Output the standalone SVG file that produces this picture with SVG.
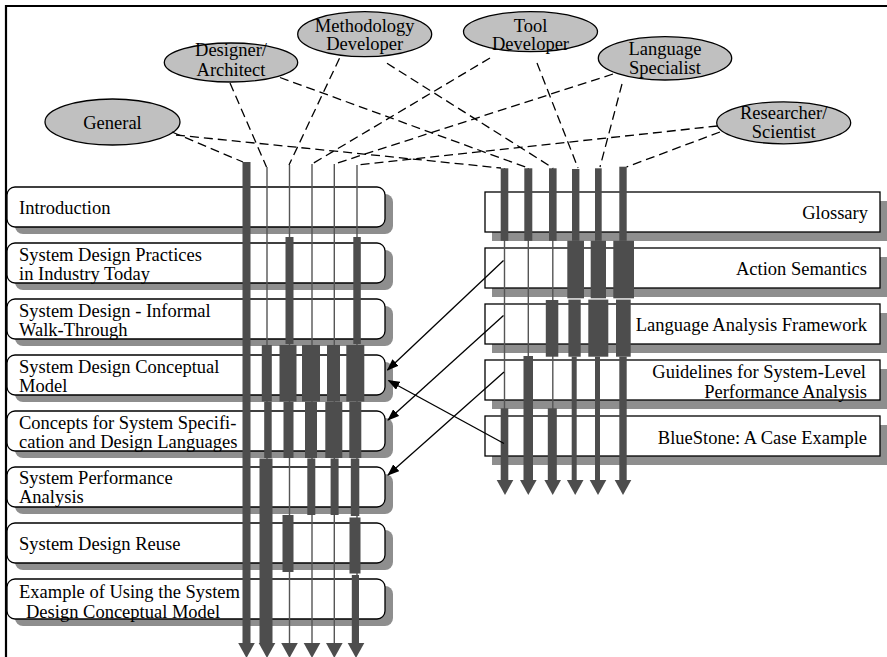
<svg xmlns="http://www.w3.org/2000/svg" xmlns:xlink="http://www.w3.org/1999/xlink" width="887" height="657" viewBox="0 0 887 657">
<style>
  text { font-family: "Liberation Serif", "Times New Roman", serif; font-size: 18.5px; fill: #000; }
  .box { fill: #fff; stroke: #000; stroke-width: 1.3; }
  .shadow { fill: #8e8e8e; }
  .ell { fill: #c0c0c0; stroke: #000; stroke-width: 1.3; }
  .dash { stroke: #000; stroke-width: 1.3; stroke-dasharray: 9 5; fill: none; }
  .thin { stroke: #555; stroke-width: 1.4; fill: none; }
  .bar { fill: #4d4d4d; }
  .arr { stroke: #000; stroke-width: 1.3; fill: none; marker-end: url(#tip); }
  .mid { text-anchor: middle; }
  .end { text-anchor: end; }
</style>
<defs>
  <marker id="tip" markerWidth="12" markerHeight="9" refX="11" refY="4.5" orient="auto" markerUnits="userSpaceOnUse">
    <path d="M0,0 L12,4.5 L0,9 Z" fill="#000"/>
  </marker>
  <path id="ah" d="M-8.3,0 L8.3,0 L0,15 Z" fill="#4d4d4d"/>
</defs>

<path d="M6,720 V6 H900" fill="none" stroke="#000" stroke-width="2.2"/>

<!-- Left chapter boxes -->
<g id="introduction">
  <rect class="shadow" x="15" y="194" width="378" height="40" rx="8"/>
  <rect class="box" x="7" y="187" width="378" height="40" rx="8"/>
  <text x="19" y="214">Introduction</text>
</g>
<g id="practices">
  <rect class="shadow" x="15" y="250" width="378" height="40" rx="8"/>
  <rect class="box" x="7" y="243" width="378" height="40" rx="8"/>
  <text x="19" y="261">System Design Practices</text>
  <text x="19" y="280">in Industry Today</text>
</g>
<g id="walkthrough">
  <rect class="shadow" x="15" y="306" width="378" height="40" rx="8"/>
  <rect class="box" x="7" y="299" width="378" height="40" rx="8"/>
  <text x="19" y="316.5">System Design - Informal</text>
  <text x="19" y="336">Walk-Through</text>
</g>
<g id="conceptual-model">
  <rect class="shadow" x="15" y="362" width="378" height="40" rx="8"/>
  <rect class="box" x="7" y="355" width="378" height="40" rx="8"/>
  <text x="19" y="372.5">System Design Conceptual</text>
  <text x="19" y="392">Model</text>
</g>
<g id="concepts">
  <rect class="shadow" x="15" y="418" width="378" height="40" rx="8"/>
  <rect class="box" x="7" y="411" width="378" height="40" rx="8"/>
  <text x="19" y="428.5">Concepts for System Specifi-</text>
  <text x="19" y="447.5">cation and Design Languages</text>
</g>
<g id="performance">
  <rect class="shadow" x="15" y="474" width="378" height="40" rx="8"/>
  <rect class="box" x="7" y="467" width="378" height="40" rx="8"/>
  <text x="19" y="484">System Performance</text>
  <text x="19" y="502.5">Analysis</text>
</g>
<g id="reuse">
  <rect class="shadow" x="15" y="530" width="378" height="40" rx="8"/>
  <rect class="box" x="7" y="523" width="378" height="40" rx="8"/>
  <text x="19" y="549.5">System Design Reuse</text>
</g>
<g id="example">
  <rect class="shadow" x="15" y="586" width="378" height="40" rx="8"/>
  <rect class="box" x="7" y="579" width="378" height="40" rx="8"/>
  <text x="19" y="597.5">Example of Using the System</text>
  <text x="26" y="617.5">Design Conceptual Model</text>
</g>

<!-- Right appendix boxes -->
<g id="glossary">
  <rect class="shadow" x="492" y="201" width="400" height="40"/>
  <rect class="box" x="485" y="192" width="395" height="40"/>
  <text class="end" x="868" y="219">Glossary</text>
</g>
<g id="action-semantics">
  <rect class="shadow" x="492" y="257" width="400" height="40"/>
  <rect class="box" x="485" y="248" width="395" height="40"/>
  <text class="end" x="867" y="275">Action Semantics</text>
</g>
<g id="language-analysis">
  <rect class="shadow" x="492" y="313" width="400" height="40"/>
  <rect class="box" x="485" y="304" width="395" height="40"/>
  <text class="end" x="867" y="331">Language Analysis Framework</text>
</g>
<g id="guidelines">
  <rect class="shadow" x="492" y="369" width="400" height="40"/>
  <rect class="box" x="485" y="360" width="395" height="40"/>
  <text class="end" x="866" y="378">Guidelines for System-Level</text>
  <text class="end" x="867" y="397.5">Performance Analysis</text>
</g>
<g id="bluestone">
  <rect class="shadow" x="492" y="425" width="400" height="40"/>
  <rect class="box" x="485" y="416" width="395" height="40"/>
  <text class="end" x="867" y="443.5">BlueStone: A Case Example</text>
</g>

<!-- Reader roles -->
<g id="general">
  <ellipse class="ell" cx="112.5" cy="122" rx="67.5" ry="23"/>
  <text class="mid" x="112.5" y="129">General</text>
</g>
<g id="designer">
  <ellipse class="ell" cx="231" cy="62.5" rx="66.7" ry="19.5"/>
  <text class="mid" x="231" y="56">Designer/</text>
  <text class="mid" x="231" y="76">Architect</text>
</g>
<g id="methodology">
  <ellipse class="ell" cx="364.7" cy="34.2" rx="67" ry="22.5"/>
  <text class="mid" x="364.7" y="31.5">Methodology</text>
  <text class="mid" x="364.7" y="50">Developer</text>
</g>
<g id="tool">
  <ellipse class="ell" cx="530.5" cy="31.7" rx="67" ry="20"/>
  <text class="mid" x="530.5" y="31.5">Tool</text>
  <text class="mid" x="530.5" y="50">Developer</text>
</g>
<g id="language">
  <ellipse class="ell" cx="665" cy="58.3" rx="66.7" ry="21.7"/>
  <text class="mid" x="665" y="55">Language</text>
  <text class="mid" x="665" y="74">Specialist</text>
</g>
<g id="researcher">
  <ellipse class="ell" cx="783.7" cy="122.8" rx="67" ry="21"/>
  <text class="mid" x="783.7" y="119.3">Researcher/</text>
  <text class="mid" x="783.7" y="138.3">Scientist</text>
</g>

<!-- Reading paths (lanes) -->
<g id="lanes">
  <!-- left thin lines -->
  <line class="thin" x1="267" y1="167" x2="267" y2="644"/>
  <line class="thin" x1="289.5" y1="165" x2="289.5" y2="644"/>
  <line class="thin" x1="312" y1="164" x2="312" y2="644"/>
  <line class="thin" x1="334.3" y1="164" x2="334.3" y2="644"/>
  <line class="thin" x1="357" y1="165" x2="357" y2="644"/>
  <!-- lane 1 -->
  <rect class="bar" x="242.5" y="162" width="8" height="482"/>
  <!-- lane 2 -->
  <rect class="bar" x="261.8" y="345" width="10" height="56.5"/>
  <rect class="bar" x="264.2" y="402" width="7.5" height="56"/>
  <rect class="bar" x="259.5" y="458.5" width="13" height="185.5"/>
  <!-- lane 3 -->
  <rect class="bar" x="285.5" y="237" width="8" height="107"/>
  <rect class="bar" x="279.5" y="345" width="17" height="56.5"/>
  <rect class="bar" x="283.5" y="402" width="10" height="56"/>
  <rect class="bar" x="282.5" y="515" width="11" height="57"/>
  <!-- lane 4 -->
  <rect class="bar" x="302" y="345" width="18" height="56.5"/>
  <rect class="bar" x="305" y="402" width="12" height="56"/>
  <rect class="bar" x="307.3" y="458.5" width="8" height="56.5"/>
  <!-- lane 5 -->
  <rect class="bar" x="327" y="345" width="13" height="56.5"/>
  <rect class="bar" x="325.3" y="402" width="17" height="56"/>
  <rect class="bar" x="330.6" y="458.5" width="8" height="56.5"/>
  <!-- lane 6 -->
  <rect class="bar" x="353.3" y="237" width="7.5" height="107"/>
  <rect class="bar" x="346.3" y="345" width="18" height="56.5"/>
  <rect class="bar" x="349.3" y="402" width="12" height="56"/>
  <rect class="bar" x="350.8" y="458.5" width="8.5" height="57.5"/>
  <rect class="bar" x="349.5" y="517.5" width="11" height="56"/>
  <rect class="bar" x="351.8" y="575" width="7.2" height="69"/>
  <!-- left arrowheads -->
  <use xlink:href="#ah" x="246.5" y="643"/>
  <use xlink:href="#ah" x="267" y="643"/>
  <use xlink:href="#ah" x="289.5" y="643"/>
  <use xlink:href="#ah" x="312" y="643"/>
  <use xlink:href="#ah" x="334.3" y="643"/>
  <use xlink:href="#ah" x="356" y="643"/>

  <!-- right thin lines -->
  <line class="thin" x1="504.5" y1="168" x2="504.5" y2="481"/>
  <line class="thin" x1="528.3" y1="168" x2="528.3" y2="481"/>
  <line class="thin" x1="552.8" y1="168" x2="552.8" y2="481"/>
  <!-- R1 -->
  <rect class="bar" x="500.7" y="168.3" width="7.6" height="72.5"/>
  <rect class="bar" x="500.7" y="408.3" width="7.6" height="72"/>
  <!-- R2 -->
  <rect class="bar" x="524.3" y="168.3" width="8" height="72.5"/>
  <rect class="bar" x="523.5" y="356" width="9.5" height="124.3"/>
  <!-- R3 -->
  <rect class="bar" x="549" y="168.3" width="7.6" height="72.5"/>
  <rect class="bar" x="545.8" y="300" width="12.5" height="56.7"/>
  <rect class="bar" x="547.8" y="408.3" width="9" height="72"/>
  <!-- R4 -->
  <rect class="bar" x="572" y="169" width="7.4" height="71.8"/>
  <rect class="bar" x="567.3" y="240.8" width="16.7" height="57.5"/>
  <rect class="bar" x="568.4" y="299.6" width="12.3" height="57.1"/>
  <rect class="bar" x="571.7" y="356.7" width="5" height="123.6"/>
  <!-- R5 -->
  <rect class="bar" x="595" y="168.3" width="6.7" height="72.5"/>
  <rect class="bar" x="590.7" y="240.8" width="15.3" height="57.5"/>
  <rect class="bar" x="588.3" y="299.6" width="20" height="57.1"/>
  <rect class="bar" x="595" y="356.7" width="5" height="123.6"/>
  <!-- R6 -->
  <rect class="bar" x="619.3" y="166.7" width="7.4" height="74.1"/>
  <rect class="bar" x="613.3" y="240.8" width="20.7" height="57.5"/>
  <rect class="bar" x="616" y="299.6" width="14.7" height="57.1"/>
  <rect class="bar" x="619.3" y="356.7" width="7.4" height="123.6"/>
  <!-- right arrowheads -->
  <use xlink:href="#ah" x="505" y="480" transform="translate(0,0)"/>
  <use xlink:href="#ah" x="528.3" y="480"/>
  <use xlink:href="#ah" x="552.7" y="480"/>
  <use xlink:href="#ah" x="575.2" y="480"/>
  <use xlink:href="#ah" x="598" y="480"/>
  <use xlink:href="#ah" x="623" y="480"/>
</g>

<!-- Connectors -->
<g id="connectors">
  <!-- role to lanes (dashed) -->
  <line class="dash" x1="172" y1="132" x2="243" y2="162"/>
  <line class="dash" x1="176" y1="135" x2="501" y2="168"/>
  <line class="dash" x1="230" y1="83" x2="266.5" y2="167"/>
  <line class="dash" x1="280" y1="77.5" x2="528" y2="168"/>
  <line class="dash" x1="339.5" y1="58.3" x2="289" y2="165"/>
  <line class="dash" x1="387" y1="63.3" x2="553" y2="168"/>
  <line class="dash" x1="490" y1="58" x2="312" y2="164"/>
  <line class="dash" x1="537" y1="63" x2="578" y2="168"/>
  <line class="dash" x1="613" y1="74" x2="334.3" y2="164"/>
  <line class="dash" x1="622" y1="84" x2="600" y2="167"/>
  <line class="dash" x1="717.5" y1="126" x2="357" y2="165"/>
  <line class="dash" x1="720" y1="132" x2="626.5" y2="167"/>
  <!-- cross references (solid arrows) -->
  <line class="arr" x1="503.5" y1="260.5" x2="387.5" y2="370"/>
  <line class="arr" x1="503.5" y1="315.5" x2="388" y2="420"/>
  <line class="arr" x1="504" y1="372" x2="388" y2="475"/>
  <line class="arr" x1="504" y1="443.5" x2="388.5" y2="380.5"/>
</g>
</svg>
